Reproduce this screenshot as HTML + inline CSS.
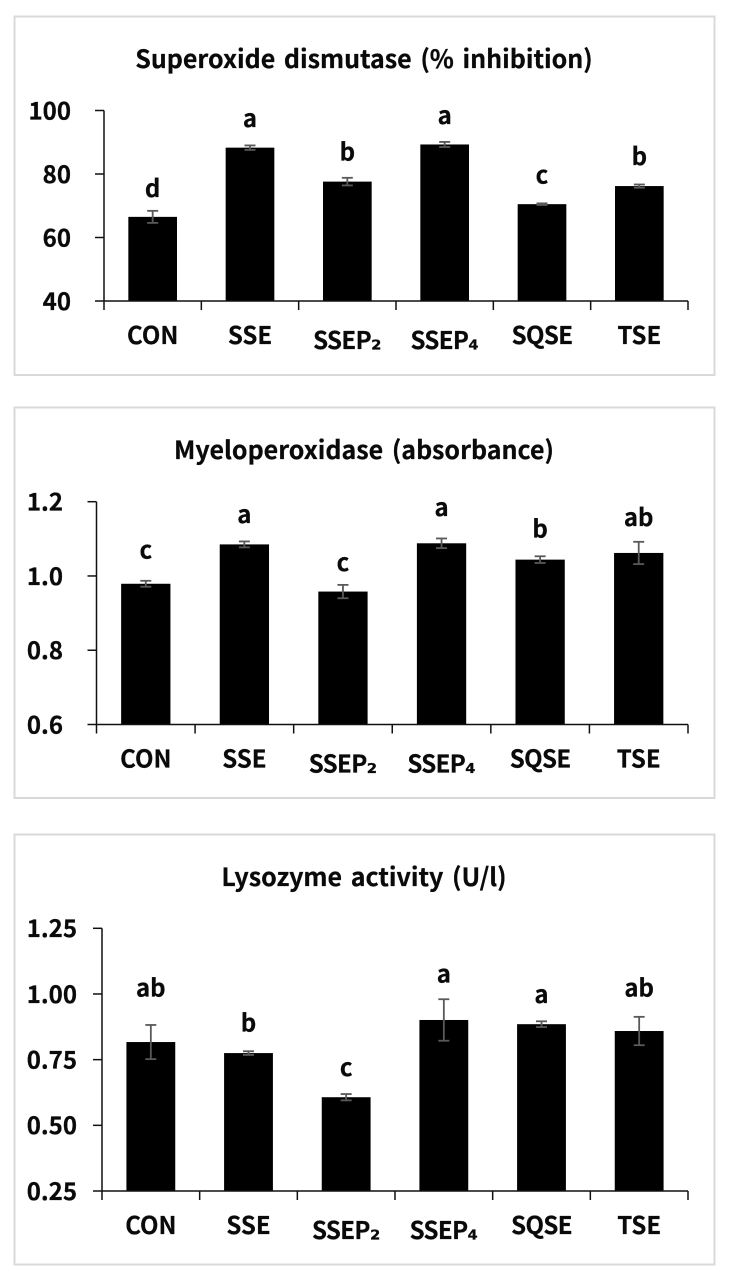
<!DOCTYPE html>
<html lang="en">
<head>
<meta charset="utf-8">
<title>Superoxide dismutase, myeloperoxidase and lysozyme activity</title>
<style>
  html, body { margin: 0; padding: 0; background: #ffffff; }
  svg { display: block; }
  text { font-family: "Noto Sans CJK KR", "Liberation Sans", sans-serif; font-weight: 700; fill: #0a0a0a; stroke: #0a0a0a; stroke-width: 0.25px; }
  .title { font-size: 25px; word-spacing: 3px; text-anchor: middle; }
  .tick { font-size: 24px; text-anchor: end; }
  .cat { font-size: 24px; text-anchor: middle; }
  .cat-long { letter-spacing: -0.6px; }
  .sub { font-family: "DejaVu Sans", sans-serif; font-size: 24px; letter-spacing: 0; }
  .letter { font-size: 24px; text-anchor: middle; }
</style>
</head>
<body>
<svg id="figure" width="732" height="1281" viewBox="0 0 732 1281" xmlns="http://www.w3.org/2000/svg">
  <rect x="0" y="0" width="732" height="1281" fill="#ffffff"/>

  <g id="chart-sod">
    <rect x="14.5" y="16.5" width="700" height="358.5" fill="#ffffff" stroke="#d9d9d9" stroke-width="2"/>
    <text class="title" x="364" y="68">Superoxide dismutase (% inhibition)</text>
  </g>

  <g id="chart-mpo">
    <rect x="14.5" y="407.5" width="700" height="390.5" fill="#ffffff" stroke="#d9d9d9" stroke-width="2"/>
    <text class="title" x="364" y="459">Myeloperoxidase (absorbance)</text>
  </g>

  <g id="chart-lys">
    <rect x="14.5" y="834.5" width="700" height="430" fill="#ffffff" stroke="#d9d9d9" stroke-width="2"/>
    <text class="title" x="364" y="886">Lysozyme activity (U/l)</text>
  </g>
</svg>

<script>
// Shared categories
const categories = ["CON", "SSE", "SSEP\u2082", "SSEP\u2084", "SQSE", "TSE"];

// Superoxide dismutase (% inhibition)
const sodTicks = ["40", "60", "80", "100"];
const sodValues = [66.5, 88.3, 77.6, 89.3, 70.5, 76.2];
const sodErrors = [1.9, 0.7, 1.2, 0.8, 0.25, 0.5];
const sodLetters = ["d", "a", "b", "a", "c", "b"];
const sodLetterLift = [4.4, 5.8, 5.5, 5.7, 6.3, 6.1];

// Myeloperoxidase (absorbance)
const mpoTicks = ["0.6", "0.8", "1.0", "1.2"];
const mpoValues = [0.979, 1.085, 0.958, 1.088, 1.044, 1.062];
const mpoErrors = [0.008, 0.008, 0.018, 0.013, 0.009, 0.03];
const mpoLetters = ["c", "a", "c", "a", "b", "ab"];
const mpoLetterLift = [0.06, 0.049, 0.038, 0.061, 0.05, 0.042];

// Lysozyme activity (U/l)
const lysTicks = ["0.25", "0.50", "0.75", "1.00", "1.25"];
const lysValues = [0.817, 0.775, 0.607, 0.901, 0.885, 0.859];
const lysErrors = [0.065, 0.007, 0.012, 0.079, 0.011, 0.054];
const lysLetters = ["ab", "b", "c", "a", "a", "ab"];
const lysLetterLift = [0.109, 0.075, 0.069, 0.064, 0.069, 0.078];

const SVG_NS = "http://www.w3.org/2000/svg";

function makeLine(parent, x1, y1, x2, y2, color, width) {
  const el = document.createElementNS(SVG_NS, "line");
  el.setAttribute("x1", x1);
  el.setAttribute("y1", y1);
  el.setAttribute("x2", x2);
  el.setAttribute("y2", y2);
  el.setAttribute("stroke", color);
  el.setAttribute("stroke-width", width);
  parent.appendChild(el);
  return el;
}

function makeText(parent, cls, x, y, content) {
  const el = document.createElementNS(SVG_NS, "text");
  el.setAttribute("class", cls);
  el.setAttribute("x", x);
  el.setAttribute("y", y);
  el.textContent = content;
  parent.appendChild(el);
  return el;
}

function drawChart(groupId, prefix, ticks, values, errors, letters, lifts, frame) {
  const root = document.getElementById(groupId);
  const tickValues = ticks.map(Number);
  const yMin = tickValues[0];
  const yMax = tickValues[tickValues.length - 1];
  const slot = (frame.right - frame.left) / categories.length;
  const xCenter = function (i) { return frame.left + slot * (i + 0.5); };
  const yScale = function (v) {
    return frame.bottom - (v - yMin) / (yMax - yMin) * (frame.bottom - frame.top);
  };
  const barWidth = slot * 0.5;
  const axisColor = "#111111";
  const errColor = "#595959";
  const capHalf = 5.5;

  values.forEach(function (v, i) {
    const bar = document.createElementNS(SVG_NS, "rect");
    bar.setAttribute("x", xCenter(i) - barWidth / 2);
    bar.setAttribute("y", yScale(v));
    bar.setAttribute("width", barWidth);
    bar.setAttribute("height", frame.bottom - yScale(v));
    bar.setAttribute("fill", "#000000");
    
    
    root.appendChild(bar);
  });

  const yAxis = makeLine(root, frame.left, frame.top, frame.left, frame.bottom, axisColor, 1.5);
  
  

  const xAxis = makeLine(root, frame.left, frame.bottom, frame.right, frame.bottom, axisColor, 1.5);
  
  

  ticks.forEach(function (label, i) {
    const y = yScale(tickValues[i]);
    const mark = makeLine(root, frame.left - 9, y, frame.left, y, axisColor, 1.5);
    
    
    const text = makeText(root, "tick", frame.labelRight, y + 8.8, label);
    
    
  });

  for (let i = 0; i <= categories.length; i++) {
    const x = frame.left + slot * i;
    const mark = makeLine(root, x, frame.bottom, x, frame.bottom + 9, axisColor, 1.5);
    
    
  }

  categories.forEach(function (label, i) {
    const hasSubscript = /[\u2082\u2084]/.test(label);
    const y = frame.bottom + (hasSubscript ? 48 : 43);
    const base = hasSubscript ? label.slice(0, -1) : label;
    const cls = base.length >= 4 ? "cat cat-long" : "cat";
    const text = makeText(root, cls, xCenter(i), y, base);
    
    
    if (hasSubscript) {
      const sub = document.createElementNS(SVG_NS, "tspan");
      sub.setAttribute("class", "sub");
      sub.setAttribute("dy", "0.5");
      sub.textContent = label.slice(-1);
      
      
      text.appendChild(sub);
    }
  });

  errors.forEach(function (err, i) {
    const cx = xCenter(i);
    const top = yScale(values[i] + err);
    const bot = yScale(values[i] - err);
    const stem = makeLine(root, cx, top, cx, bot, errColor, 1.8);
    
    
    const capTop = makeLine(root, cx - capHalf, top, cx + capHalf, top, errColor, 1.8);
    
    
    const capBottom = makeLine(root, cx - capHalf, bot, cx + capHalf, bot, errColor, 1.8);
    
    
  });

  letters.forEach(function (letter, i) {
    const y = yScale(values[i] + errors[i] + lifts[i]);
    const text = makeText(root, "letter", xCenter(i), y, letter);
    
    
  });
}

drawChart("chart-sod", "sod", sodTicks, sodValues, sodErrors, sodLetters, sodLetterLift,
  { left: 104, right: 688, top: 110.5, bottom: 301, labelRight: 71 });
drawChart("chart-mpo", "mpo", mpoTicks, mpoValues, mpoErrors, mpoLetters, mpoLetterLift,
  { left: 96.5, right: 688, top: 501.7, bottom: 724.5, labelRight: 63 });
drawChart("chart-lys", "lys", lysTicks, lysValues, lysErrors, lysLetters, lysLetterLift,
  { left: 102, right: 688, top: 928.3, bottom: 1191, labelRight: 77 });
</script>
</body>
</html>
